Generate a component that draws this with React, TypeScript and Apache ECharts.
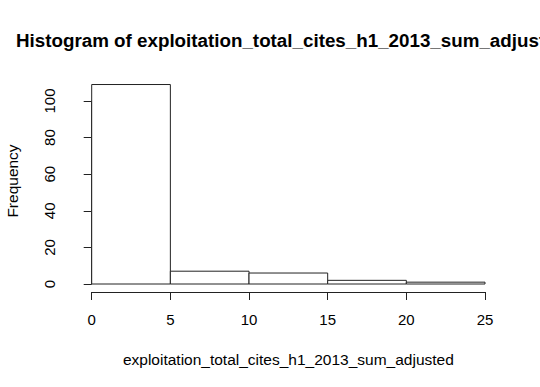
import { useEffect, useRef } from 'react';
import * as echarts from 'echarts';

const binEdges = [0, 5, 10, 15, 20, 25];
const frequencies = [109, 7, 6, 2, 1];
const xTickInterval = 5;
const yTickInterval = 20;
const xRange = [0, 25];
const yRange = [0, 100];
const titleText = 'Histogram of exploitation_total_cites_h1_2013_sum_adjusted';
const xLabel = 'exploitation_total_cites_h1_2013_sum_adjusted';
const yLabel = 'Frequency';

const FONT = '"Liberation Sans", Arial, Helvetica, sans-serif';
const INK = '#222';

export default function App() {
  const ref = useRef<HTMLDivElement>(null);

  useEffect(() => {
    if (!ref.current) return;
    const chart = echarts.init(ref.current, null, { renderer: 'svg' });
    const histData = frequencies.map((f, i) => [binEdges[i], binEdges[i + 1], f]);

    chart.setOption({
      animation: false,
      backgroundColor: '#fff',
      grid: { left: 91.7, right: 55, top: 101, bottom: 103, containLabel: false },
      xAxis: {
        type: 'value',
        min: xRange[0],
        max: xRange[1],
        interval: xTickInterval,
        offset: 8,
        name: xLabel,
        nameLocation: 'middle',
        nameGap: 59,
        nameTextStyle: { fontFamily: FONT, fontSize: 15.5, color: '#000' },
        axisLine: { show: true, onZero: false, lineStyle: { color: INK, width: 1 } },
        axisTick: { show: true, length: 8, lineStyle: { color: INK, width: 1 } },
        axisLabel: { fontFamily: FONT, fontSize: 15, color: '#000', margin: 20 },
        splitLine: { show: false },
      },
      yAxis: {
        type: 'value',
        min: yRange[0],
        max: yRange[1],
        interval: yTickInterval,
        offset: 16,
        axisLine: { show: true, lineStyle: { color: INK, width: 1 } },
        axisTick: { show: true, length: 8, lineStyle: { color: INK, width: 1 } },
        axisLabel: { fontFamily: FONT, fontSize: 15, color: '#000', margin: 19, rotate: 90 },
        splitLine: { show: false },
      },
      graphic: [
        {
          type: 'text',
          x: 16,
          y: 40,
          style: {
            text: titleText,
            fontFamily: FONT,
            fontSize: 18.8,
            fontWeight: 'bold',
            fill: '#000',
            align: 'left',
            verticalAlign: 'middle',
          },
        },
        {
          type: 'text',
          x: 12,
          y: 181,
          rotation: Math.PI / 2,
          style: {
            text: yLabel,
            fontFamily: FONT,
            fontSize: 15.5,
            fill: '#000',
            align: 'center',
            verticalAlign: 'middle',
          },
        },
      ],
      series: [
        {
          type: 'custom',
          clip: false,
          encode: { x: [0, 1], y: 2 },
          data: histData,
          renderItem: (params: any, api: any) => {
            const p0 = api.coord([api.value(0), api.value(2)]);
            const p1 = api.coord([api.value(1), 0]);
            return {
              type: 'rect',
              shape: { x: p0[0], y: p0[1], width: p1[0] - p0[0], height: p1[1] - p0[1] },
              style: { fill: '#fff', stroke: INK, lineWidth: 1 },
            };
          },
        },
      ],
    });

    return () => chart.dispose();
  }, []);

  return (
    <div
      ref={ref}
      style={{ position: 'fixed', left: 0, top: 0, width: 540, height: 387, background: '#fff' }}
    />
  );
}
